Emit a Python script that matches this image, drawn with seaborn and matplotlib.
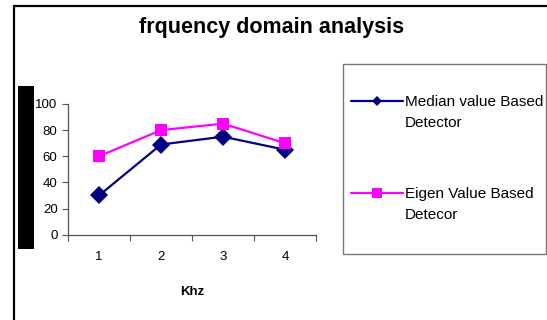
import matplotlib
matplotlib.use("Agg")
import matplotlib.pyplot as plt
from matplotlib.lines import Line2D
from matplotlib.patches import Rectangle
import seaborn as sns
import pandas as pd

# Data
freq_khz = [1, 2, 3, 4]
median_detector = [30, 69, 75, 65]
eigen_detector = [60, 80, 85, 70]
series_names = ["Median value Based Detector", "Eigen Value Based Detecor"]
y_ticks = [0, 20, 40, 60, 80, 100]

df = pd.DataFrame({
    "Khz": freq_khz * 2,
    "value": median_detector + eigen_detector,
    "series": [series_names[0]] * 4 + [series_names[1]] * 4,
})

sns.set_style("white")
plt.rcParams["font.family"] = ["Liberation Sans", "DejaVu Sans"]
plt.rcParams["text.color"] = "black"
plt.rcParams["axes.labelcolor"] = "black"
plt.rcParams["xtick.color"] = "black"
plt.rcParams["ytick.color"] = "black"

W, H = 547, 320
fig = plt.figure(figsize=(W / 100, H / 100), dpi=100)

def fx(px):
    return px / W

def fy(py):
    return 1 - py / H

ax = fig.add_axes([fx(68), fy(234.7), fx(316 - 68), (234.7 - 104) / H])

navy = "#000080"
magenta = "#FF00FF"
sns.lineplot(
    data=df, x="Khz", y="value", hue="series", style="series",
    palette={series_names[0]: navy, series_names[1]: magenta},
    markers={series_names[0]: "D", series_names[1]: "s"},
    dashes=False, linewidth=1.6, markersize=9, markeredgewidth=0,
    legend=False, ax=ax,
)

ax.set_xlim(0.5, 4.5)
ax.set_ylim(0, 100)
ax.set_yticks(y_ticks)
ax.set_xticks(freq_khz)
ax.set_xticks([0.5, 1.5, 2.5, 3.5, 4.5], minor=True)
ax.tick_params(axis="x", which="major", length=0, pad=12, labelsize=9.5, labelcolor="black")
ax.tick_params(axis="x", which="minor", length=4, width=0.8, direction="out", color="#555555", bottom=True)
ax.tick_params(axis="y", length=4, width=0.8, direction="out", pad=3.5, labelsize=9.5,
               color="#555555", labelcolor="black", left=True)
for s in ["top", "right"]:
    ax.spines[s].set_visible(False)
for s in ["left", "bottom"]:
    ax.spines[s].set_color("#555555")
    ax.spines[s].set_linewidth(0.9)
ax.set_ylabel("")
ax.set_xlabel("Khz", fontsize=9.5, fontweight="bold", color="black")
ax.xaxis.set_label_coords(0.5, -(292 - 234.7) / 130.7)
ax.xaxis.label.set_va("center")

# Title
fig.text(fx(272), fy(33), "frquency domain analysis", ha="center", va="baseline",
         fontsize=15.5, fontweight="bold", color="black")

# Outer frame (left and top edges)
fig.add_artist(Line2D([fx(13.5), fx(13.5)], [0, fy(6)], color="black", lw=1.6,
                      transform=fig.transFigure))
fig.add_artist(Line2D([fx(13.5), 1], [fy(6), fy(6)], color="black", lw=1.6,
                      transform=fig.transFigure))

# Black side bar
fig.add_artist(Rectangle((fx(18), fy(249)), fx(34 - 18), (249 - 86) / H,
                         facecolor="black", edgecolor="none", transform=fig.transFigure))

# Legend box
fig.add_artist(Rectangle((fx(343), fy(254)), fx(546 - 343), (254 - 64) / H,
                         facecolor="white", edgecolor="#777777", lw=1.0,
                         transform=fig.transFigure))

entries = [
    (101, navy, "D", 5.5, ("Median value Based", "Detector")),
    (193, magenta, "s", 6.5, ("Eigen Value Based", "Detecor")),
]
for ypx, col, mk, ms, lines in entries:
    fig.add_artist(Line2D([fx(351), fx(403)], [fy(ypx), fy(ypx)], color=col, lw=1.6,
                          transform=fig.transFigure))
    fig.add_artist(Line2D([fx(377)], [fy(ypx)], color=col, marker=mk, markersize=ms,
                          markeredgewidth=0, transform=fig.transFigure))
    fig.text(fx(405), fy(ypx + 5), lines[0], ha="left", va="baseline", fontsize=11,
             color="black")
    fig.text(fx(405), fy(ypx + 26), lines[1], ha="left", va="baseline", fontsize=11,
             color="black")

fig.savefig("out.png", dpi=100)
